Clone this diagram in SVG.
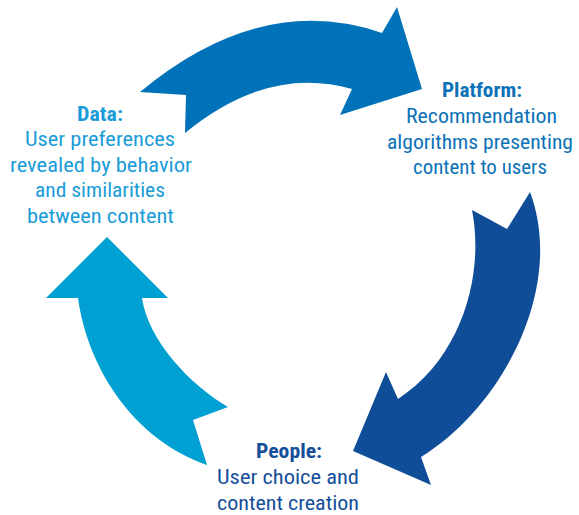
<svg xmlns="http://www.w3.org/2000/svg" width="579" height="515" viewBox="0 0 579 515">
  <style>
    .lbl { font-family: "Liberation Sans Narrow", "Roboto Condensed", "Liberation Sans", sans-serif; font-size: 20px; text-anchor: middle; }
    .hd { font-weight: bold; }
    .data { fill: #1a9cd8; }
    .platform { fill: #0b72b7; }
    .people { fill: #154f99; }
  </style>
  <rect width="579" height="515" fill="#ffffff"/>

  <!-- curved arrows of the cycle -->
  <g id="connectors">
    <path id="arrow-data-platform" fill="#0072b9"
          d="M140,92 L186,95 L185,133 Q267.5,65 352,89 L340,115 L422,89 L397,7 L382,33 Q261,-8.5 140,92 Z"/>
    <path id="arrow-platform-people" fill="#0f4d98"
          d="M530,192 L507,229 L472,210 C484,270 465,355 398,399 L386,372 L353,451 L431,485 L421,457 C505,405 565,285 530,192 Z"/>
    <path id="arrow-people-data" fill="#00a0d2"
          d="M107,237 L46,298 L78,298 C88,370 135,440 207,465 L193,420 L228,407 C190,385 148,340 142,298 L168,298 Z"/>
  </g>

  <g id="node-data" class="lbl data">
    <text class="hd" x="100" y="120.5" textLength="46" lengthAdjust="spacingAndGlyphs">Data:</text>
    <text x="100" y="146" textLength="150" lengthAdjust="spacingAndGlyphs">User preferences</text>
    <text x="101" y="171.5" textLength="182" lengthAdjust="spacingAndGlyphs">revealed by behavior</text>
    <text x="100" y="197" textLength="130" lengthAdjust="spacingAndGlyphs">and similarities</text>
    <text x="100.5" y="222.5" textLength="147" lengthAdjust="spacingAndGlyphs">between content</text>
  </g>

  <g id="node-platform" class="lbl platform">
    <text class="hd" x="482" y="97" textLength="80" lengthAdjust="spacingAndGlyphs">Platform:</text>
    <text x="481.5" y="123" textLength="151" lengthAdjust="spacingAndGlyphs">Recommendation</text>
    <text x="480" y="149" textLength="186" lengthAdjust="spacingAndGlyphs">algorithms presenting</text>
    <text x="480" y="174" textLength="134" lengthAdjust="spacingAndGlyphs">content to users</text>
  </g>

  <g id="node-people" class="lbl people">
    <text class="hd" x="289" y="458" textLength="66" lengthAdjust="spacingAndGlyphs">People:</text>
    <text x="288" y="484" textLength="142" lengthAdjust="spacingAndGlyphs">User choice and</text>
    <text x="288" y="510" textLength="142" lengthAdjust="spacingAndGlyphs">content creation</text>
  </g>
</svg>
